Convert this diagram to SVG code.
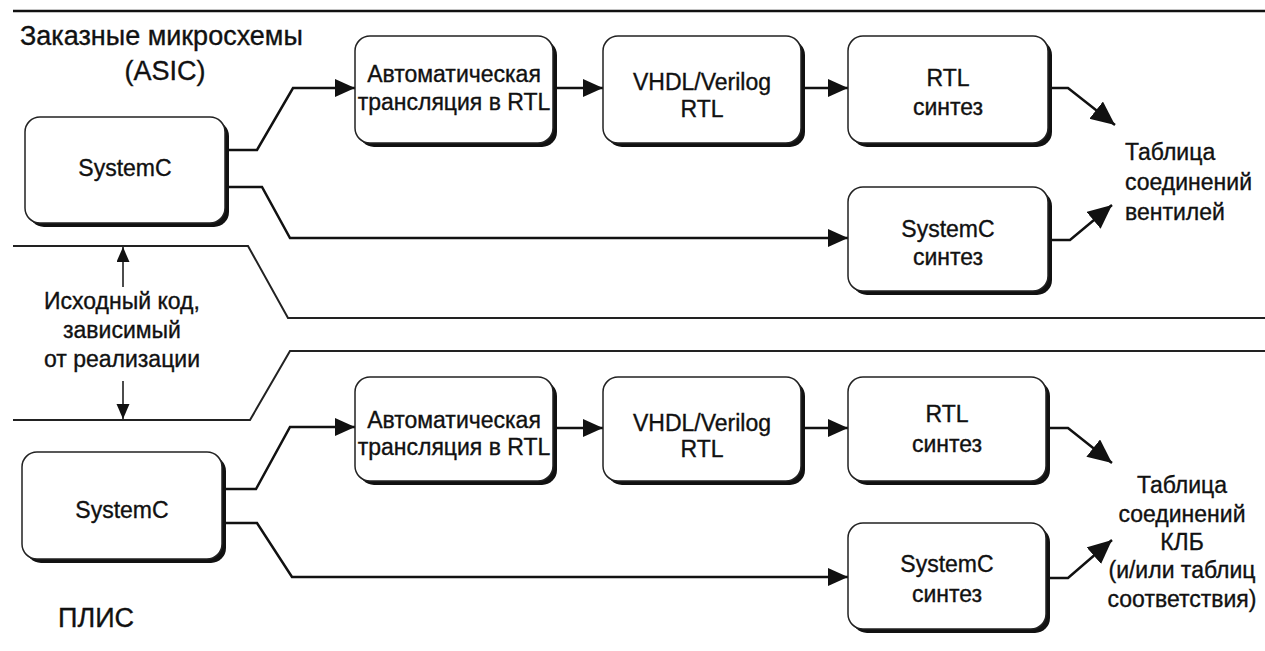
<svg xmlns="http://www.w3.org/2000/svg" width="1265" height="651" viewBox="0 0 1265 651">
<defs>
<style>
text{font-family:"Liberation Sans",Arial,sans-serif;fill:#111;stroke:#111;stroke-width:0.35;}
.bt{font-size:23px;text-anchor:middle;}
.lbl{font-size:23px;}
.big{font-size:27px;}
.note{font-size:23px;text-anchor:middle;}
.sh{fill:#111;}
.bx{fill:#fff;stroke:#222;stroke-width:1.5;}
.con{fill:none;stroke:#111;stroke-width:2.5;}
.bnd{fill:none;stroke:#222;stroke-width:2;}
.thin{fill:none;stroke:#111;stroke-width:1.5;}
</style>
<marker id="ah" markerUnits="userSpaceOnUse" markerWidth="22" markerHeight="20" refX="20" refY="9" orient="auto">
<path d="M0,0 L20,9 L0,18 Z" fill="#111"/>
</marker>
<marker id="ahb" markerUnits="userSpaceOnUse" markerWidth="26" markerHeight="24" refX="24" refY="11" orient="auto">
<path d="M0,0 L24,11 L0,22 Z" fill="#111"/>
</marker>
<marker id="ahs" markerUnits="userSpaceOnUse" markerWidth="16" markerHeight="14" refX="15" refY="6.5" orient="auto">
<path d="M0,0 L15,6.5 L0,13 Z" fill="#111"/>
</marker>
</defs>

<g id="frame">
<path class="con" d="M13,11 H1265"/>
<path class="bnd" d="M13,246 H248 L288,318 H1265"/>
<path class="bnd" d="M1265,351 H290 L250,420 H13"/>
</g>

<g id="labels">
<text class="big" x="20" y="45">Заказные микросхемы</text>
<text class="big" x="165" y="80" text-anchor="middle">(ASIC)</text>
<text class="big" x="58" y="627">ПЛИС</text>
<text class="note" x="122" y="309">Исходный код,</text>
<text class="note" x="122" y="338">зависимый</text>
<text class="note" x="122" y="367">от реализации</text>
</g>

<g id="connectors">
<path class="con" d="M229,150 H257 L293,88 H355" marker-end="url(#ah)"/>
<path class="con" d="M229,187 H262 L290,238 H848" marker-end="url(#ah)"/>
<path class="con" d="M557,88 H603" marker-end="url(#ah)"/>
<path class="con" d="M805,88 H848" marker-end="url(#ah)"/>
<path class="con" d="M1052,88 H1068 L1115,125" marker-end="url(#ahb)"/>
<path class="con" d="M1052,240 H1070 L1112,205" marker-end="url(#ahb)"/>
<path class="con" d="M226,489 H256 L290,427 H355" marker-end="url(#ah)"/>
<path class="con" d="M226,523 H257 L292,577 H848" marker-end="url(#ah)"/>
<path class="con" d="M557,428 H603" marker-end="url(#ah)"/>
<path class="con" d="M805,428 H848" marker-end="url(#ah)"/>
<path class="con" d="M1050,428 H1068 L1112,463" marker-end="url(#ahb)"/>
<path class="con" d="M1050,578 H1068 L1112,540" marker-end="url(#ahb)"/>
<path class="thin" d="M123,287 V247" marker-end="url(#ahs)"/>
<path class="thin" d="M123,381 V419" marker-end="url(#ahs)"/>
</g>

<g id="asic-systemc">
<rect class="sh" x="29" y="121" width="200" height="106" rx="15"/>
<rect class="bx" x="25" y="117" width="200" height="106" rx="15"/>
<text class="bt" x="125" y="176">SystemC</text>
</g>
<g id="asic-auto">
<rect class="sh" x="359" y="40" width="198" height="107" rx="15"/>
<rect class="bx" x="355" y="36" width="198" height="107" rx="15"/>
<text class="bt" x="454" y="82">Автоматическая</text>
<text class="bt" x="454" y="110">трансляция в RTL</text>
</g>
<g id="asic-vhdl">
<rect class="sh" x="607" y="40" width="198" height="107" rx="15"/>
<rect class="bx" x="603" y="36" width="198" height="107" rx="15"/>
<text class="bt" x="702" y="90">VHDL/Verilog</text>
<text class="bt" x="702" y="117">RTL</text>
</g>
<g id="asic-rtl">
<rect class="sh" x="852" y="40" width="200" height="107" rx="15"/>
<rect class="bx" x="848" y="36" width="200" height="107" rx="15"/>
<text class="bt" x="948" y="86">RTL</text>
<text class="bt" x="948" y="115">синтез</text>
</g>
<g id="asic-scsynth">
<rect class="sh" x="852" y="191" width="200" height="104" rx="15"/>
<rect class="bx" x="848" y="187" width="200" height="104" rx="15"/>
<text class="bt" x="948" y="237">SystemC</text>
<text class="bt" x="948" y="265">синтез</text>
</g>
<g id="asic-netlist">
<text class="lbl" x="1125" y="160">Таблица</text>
<text class="lbl" x="1125" y="190">соединений</text>
<text class="lbl" x="1125" y="220">вентилей</text>
</g>

<g id="fpga-systemc">
<rect class="sh" x="26" y="456" width="200" height="107" rx="15"/>
<rect class="bx" x="22" y="452" width="200" height="107" rx="15"/>
<text class="bt" x="122" y="518">SystemC</text>
</g>
<g id="fpga-auto">
<rect class="sh" x="359" y="381" width="198" height="104" rx="15"/>
<rect class="bx" x="355" y="377" width="198" height="104" rx="15"/>
<text class="bt" x="454" y="428">Автоматическая</text>
<text class="bt" x="454" y="455">трансляция в RTL</text>
</g>
<g id="fpga-vhdl">
<rect class="sh" x="607" y="381" width="198" height="104" rx="15"/>
<rect class="bx" x="603" y="377" width="198" height="104" rx="15"/>
<text class="bt" x="702" y="431">VHDL/Verilog</text>
<text class="bt" x="702" y="457">RTL</text>
</g>
<g id="fpga-rtl">
<rect class="sh" x="852" y="381" width="198" height="104" rx="15"/>
<rect class="bx" x="848" y="377" width="198" height="104" rx="15"/>
<text class="bt" x="947" y="422">RTL</text>
<text class="bt" x="947" y="452">синтез</text>
</g>
<g id="fpga-scsynth">
<rect class="sh" x="852" y="527" width="198" height="106" rx="15"/>
<rect class="bx" x="848" y="523" width="198" height="106" rx="15"/>
<text class="bt" x="947" y="572">SystemC</text>
<text class="bt" x="947" y="602">синтез</text>
</g>
<g id="fpga-netlist">
<text class="lbl" x="1182" y="493" text-anchor="middle">Таблица</text>
<text class="lbl" x="1182" y="522" text-anchor="middle">соединений</text>
<text class="lbl" x="1182" y="550" text-anchor="middle">КЛБ</text>
<text class="lbl" x="1182" y="578" text-anchor="middle">(и/или таблиц</text>
<text class="lbl" x="1182" y="607" text-anchor="middle">соответствия)</text>
</g>
</svg>
